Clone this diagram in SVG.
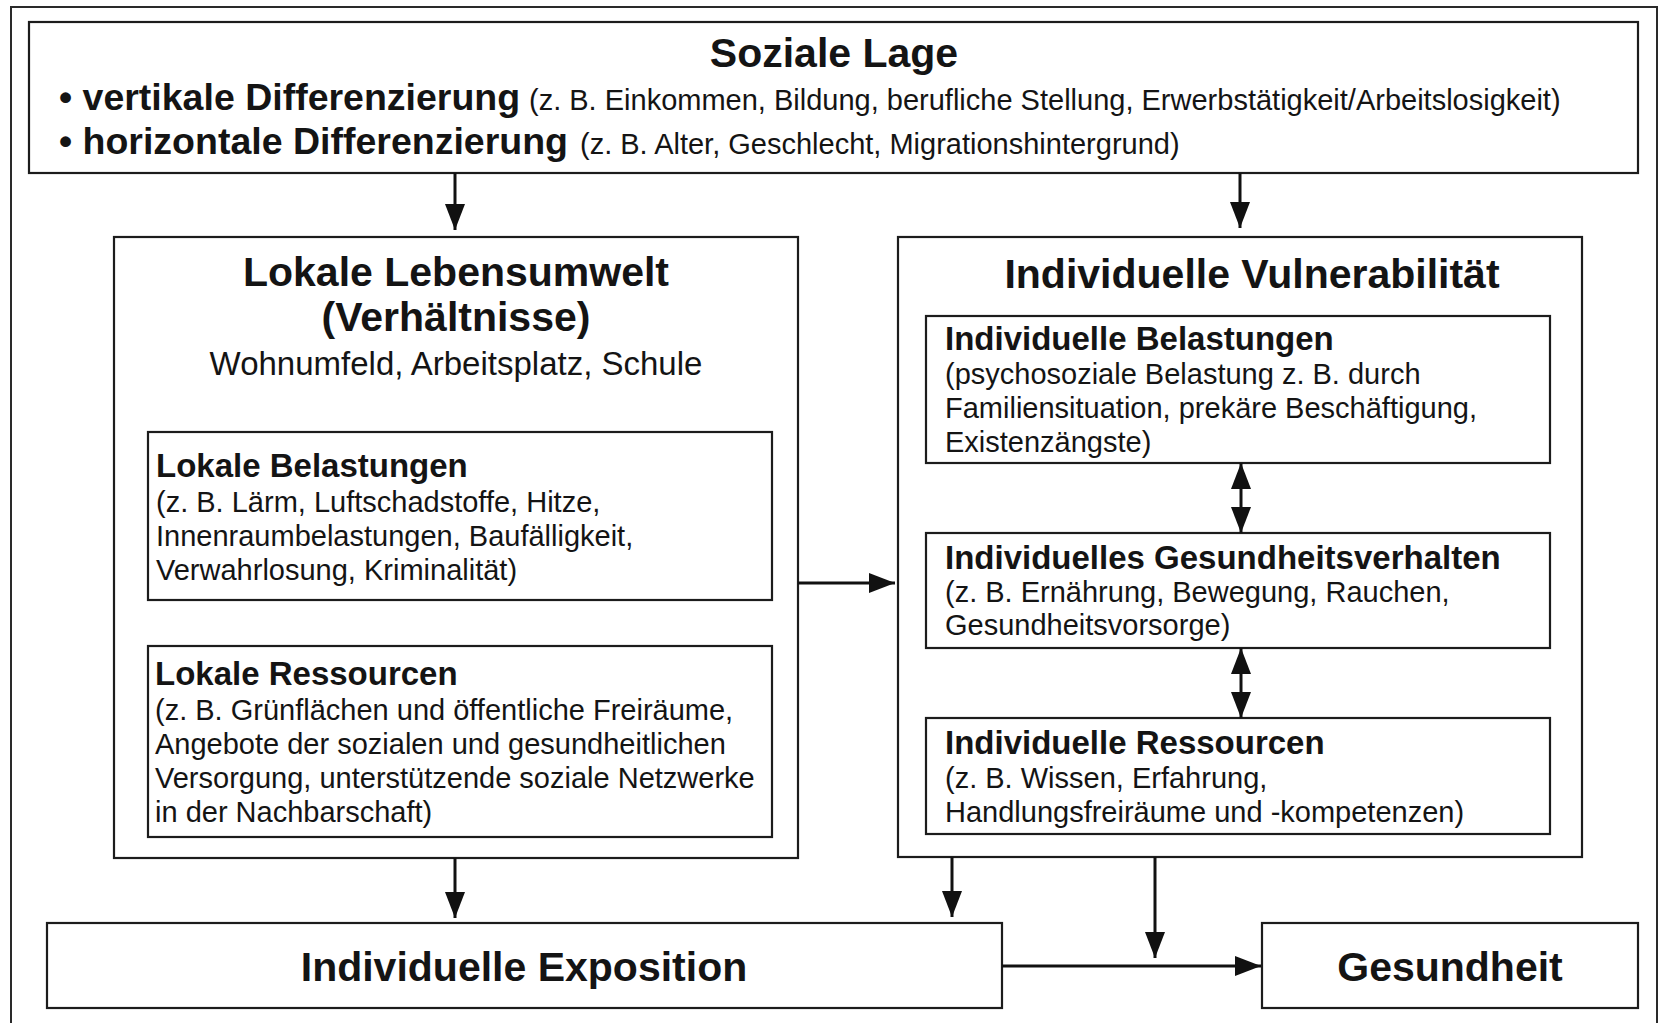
<svg xmlns="http://www.w3.org/2000/svg" width="1659" height="1023" viewBox="0 0 1659 1023">
  <defs>
    <style>
      .box { fill: #ffffff; stroke: #1c1c1c; stroke-width: 2.2; }
      .frame { fill: none; stroke: #2a2a2a; stroke-width: 2; }
      .con { fill: none; stroke: #111111; stroke-width: 3; }
      text { font-family: "Liberation Sans", Arial, Helvetica, sans-serif; fill: #141414; }
      .title { font-weight: bold; font-size: 41px; }
      .bul { font-weight: bold; font-size: 37.5px; }
      .h { font-weight: bold; font-size: 33px; }
      .sub { font-size: 33px; }
      .b { font-size: 29px; font-weight: normal; }
      .c { text-anchor: middle; }
    </style>
    <marker id="ah" viewBox="0 0 26 20" refX="26" refY="10" markerWidth="26" markerHeight="20" markerUnits="userSpaceOnUse" orient="auto-start-reverse">
      <path d="M0,0 L26,10 L0,20 z" fill="#111111"/>
    </marker>
  </defs>

  <rect x="0" y="0" width="1659" height="1023" fill="#ffffff"/>
  <path class="frame" d="M11,1023 V7 H1657 V1023"/>

  <g id="soziale-lage">
    <rect class="box" x="29" y="22" width="1609" height="151"/>
    <text class="title c" x="834" y="67">Soziale Lage</text>
    <text x="59" y="110"><tspan class="bul">• vertikale Differenzierung</tspan><tspan class="b" x="529">(z. B. Einkommen, Bildung, berufliche Stellung, Erwerbstätigkeit/Arbeitslosigkeit)</tspan></text>
    <text x="59" y="154"><tspan class="bul">• horizontale Differenzierung</tspan><tspan class="b" x="580">(z. B. Alter, Geschlecht, Migrationshintergrund)</tspan></text>
  </g>

  <g id="lokale-lebensumwelt">
    <rect class="box" x="114" y="237" width="684" height="621"/>
    <text class="title c" x="456" y="286">Lokale Lebensumwelt</text>
    <text class="title c" x="456" y="331">(Verhältnisse)</text>
    <text class="sub c" x="456" y="375">Wohnumfeld, Arbeitsplatz, Schule</text>
  </g>

  <g id="lokale-belastungen">
    <rect class="box" x="148" y="432" width="624" height="168"/>
    <text class="h" x="156" y="477">Lokale Belastungen</text>
    <text class="b" x="156" y="512">(z. B. Lärm, Luftschadstoffe, Hitze,</text>
    <text class="b" x="156" y="546">Innenraumbelastungen, Baufälligkeit,</text>
    <text class="b" x="156" y="580">Verwahrlosung, Kriminalität)</text>
  </g>

  <g id="lokale-ressourcen">
    <rect class="box" x="148" y="646" width="624" height="191"/>
    <text class="h" x="155" y="685">Lokale Ressourcen</text>
    <text class="b" x="155" y="720">(z. B. Grünflächen und öffentliche Freiräume,</text>
    <text class="b" x="155" y="754">Angebote der sozialen und gesundheitlichen</text>
    <text class="b" x="155" y="788">Versorgung, unterstützende soziale Netzwerke</text>
    <text class="b" x="155" y="822">in der Nachbarschaft)</text>
  </g>

  <g id="individuelle-vulnerabilitaet">
    <rect class="box" x="898" y="237" width="684" height="620"/>
    <text class="title c" x="1252" y="288">Individuelle Vulnerabilität</text>
  </g>

  <g id="individuelle-belastungen">
    <rect class="box" x="926" y="316" width="624" height="147"/>
    <text class="h" x="945" y="350">Individuelle Belastungen</text>
    <text class="b" x="945" y="384">(psychosoziale Belastung z. B. durch</text>
    <text class="b" x="945" y="418">Familiensituation, prekäre Beschäftigung,</text>
    <text class="b" x="945" y="452">Existenzängste)</text>
  </g>

  <g id="gesundheitsverhalten">
    <rect class="box" x="926" y="533" width="624" height="115"/>
    <text class="h" x="945" y="569">Individuelles Gesundheitsverhalten</text>
    <text class="b" x="945" y="602">(z. B. Ernährung, Bewegung, Rauchen,</text>
    <text class="b" x="945" y="635">Gesundheitsvorsorge)</text>
  </g>

  <g id="individuelle-ressourcen">
    <rect class="box" x="926" y="718" width="624" height="116"/>
    <text class="h" x="945" y="754">Individuelle Ressourcen</text>
    <text class="b" x="945" y="788">(z. B. Wissen, Erfahrung,</text>
    <text class="b" x="945" y="822">Handlungsfreiräume und -kompetenzen)</text>
  </g>

  <g id="individuelle-exposition">
    <rect class="box" x="47" y="923" width="955" height="85"/>
    <text class="title c" x="524" y="981">Individuelle Exposition</text>
  </g>

  <g id="gesundheit">
    <rect class="box" x="1262" y="923" width="376" height="85"/>
    <text class="title c" x="1450" y="981">Gesundheit</text>
  </g>

  <g id="connectors">
    <line class="con" x1="455" y1="173" x2="455" y2="230" marker-end="url(#ah)"/>
    <line class="con" x1="1240" y1="173" x2="1240" y2="228" marker-end="url(#ah)"/>
    <line class="con" x1="798" y1="583" x2="895" y2="583" marker-end="url(#ah)"/>
    <line class="con" x1="1241" y1="463" x2="1241" y2="533" marker-start="url(#ah)" marker-end="url(#ah)"/>
    <line class="con" x1="1241" y1="648" x2="1241" y2="718" marker-start="url(#ah)" marker-end="url(#ah)"/>
    <line class="con" x1="455" y1="858" x2="455" y2="918" marker-end="url(#ah)"/>
    <line class="con" x1="952" y1="857" x2="952" y2="917" marker-end="url(#ah)"/>
    <line class="con" x1="1155" y1="857" x2="1155" y2="958" marker-end="url(#ah)"/>
    <line class="con" x1="1002" y1="966" x2="1261" y2="966" marker-end="url(#ah)"/>
  </g>
</svg>
